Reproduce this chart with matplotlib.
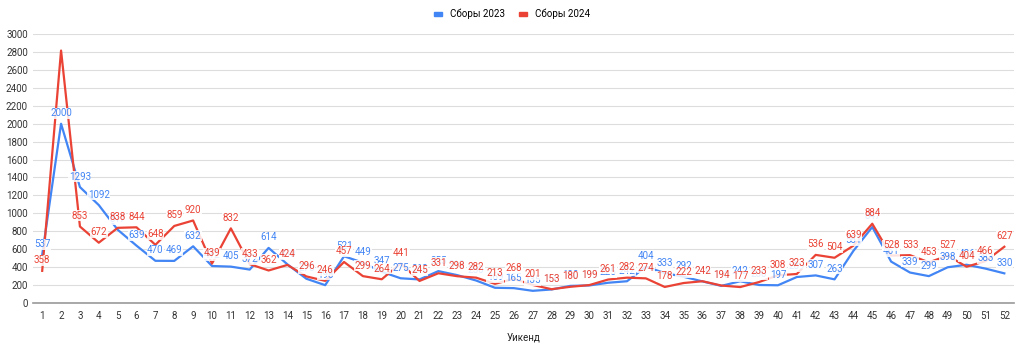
import matplotlib.pyplot as plt
import numpy as np

plt.rcParams['font.family'] = ['Roboto', 'DejaVu Sans']

weeks = list(range(1, 53))
sbory_2023 = [537, 2000, 1293, 1092, 817, 639, 470, 469, 632, 412,
              405, 372, 614, 430, 270, 198, 521, 449, 347, 275,
              262, 355, 310, 250, 169, 165, 135, 150, 190, 195,
              225, 242, 404, 333, 292, 240, 190, 242, 200, 197,
              289, 307, 263, 581, 847, 461, 339, 299, 398, 426,
              383, 330]
sbory_2024 = [358, 2817, 853, 672, 838, 844, 648, 859, 920, 439,
              832, 433, 362, 424, 296, 246, 457, 299, 264, 441,
              245, 331, 298, 282, 213, 268, 201, 153, 180, 199,
              261, 282, 274, 178, 222, 242, 194, 177, 233, 308,
              323, 536, 504, 639, 884, 528, 533, 453, 527, 404,
              466, 627]

blue = '#4285F4'
red = '#EA4335'

fig = plt.figure(figsize=(10.24, 3.45), dpi=100)
ax = fig.add_axes([0.032, 0.122, 0.958, 0.779])

ax.plot(weeks, sbory_2023, color=blue, lw=1.6, label='Сборы 2023', zorder=3)
ax.plot(weeks, sbory_2024, color=red, lw=1.6, label='Сборы 2024', zorder=3)

# labels with white background, like the sheets chart
for series, col in ((sbory_2023, blue), (sbory_2024, red)):
    for x, v in zip(weeks, series):
        if v > 2500:
            continue  # peak label is not shown on the original
        ax.annotate(str(v), (x, v), xytext=(0, 4), textcoords='offset points',
                    ha='center', va='bottom', fontsize=7, color=col, zorder=4,
                    bbox=dict(boxstyle='square,pad=0.05', fc='white', ec='none', alpha=0.85))

ax.set_xlim(0.5, 52.5)
ax.set_ylim(0, 3000)
ax.set_yticks(np.arange(0, 3001, 200))
ax.set_xticks(weeks)
ax.tick_params(axis='both', length=0, labelsize=7, colors='#333333')
ax.tick_params(axis='x', pad=6)
ax.grid(axis='y', color='#dddddd', lw=0.8)
ax.set_axisbelow(True)
for s in ['top', 'right', 'left']:
    ax.spines[s].set_visible(False)
ax.spines['bottom'].set_color('#999999')
ax.spines['bottom'].set_linewidth(1.2)

ax.set_xlabel('Уикенд', fontsize=7, color='#222222', labelpad=8)

fig.legend(loc='upper center', bbox_to_anchor=(0.5, 1.0), ncol=2, frameon=False,
           fontsize=7, handlelength=0.8, handleheight=0.3, columnspacing=1.5,
           handles=[plt.Rectangle((0, 0), 1, 1, color=blue), plt.Rectangle((0, 0), 1, 1, color=red)],
           labels=['Сборы 2023', 'Сборы 2024'])

fig.savefig('out.png', dpi=100)
